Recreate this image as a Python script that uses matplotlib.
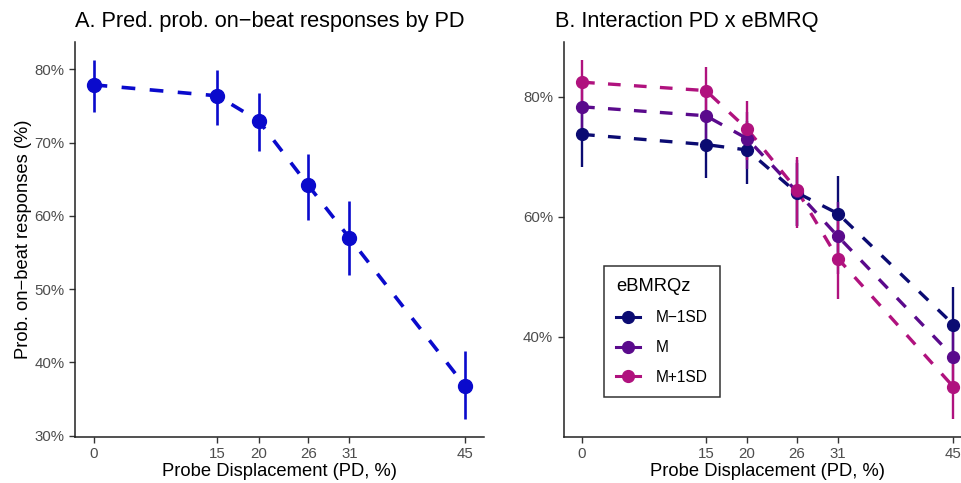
import matplotlib.pyplot as plt
from matplotlib.lines import Line2D
from matplotlib.ticker import FuncFormatter

plt.rcParams["font.family"] = ["Liberation Sans", "DejaVu Sans"]

# ---------- Data ----------
pd_levels = [0, 15, 20, 26, 31, 45]

# Panel A: predicted probability by PD (%)
a_mean = [77.9, 76.4, 73.0, 64.2, 57.0, 36.8]
a_lo = [74.2, 72.4, 68.8, 59.4, 51.9, 32.3]
a_hi = [81.3, 79.9, 76.8, 68.5, 62.0, 41.5]

# Panel B: interaction PD x eBMRQ (%)
groups = ["M\u22121SD", "M", "M+1SD"]
b_mean = {
    "M\u22121SD": [73.7, 72.0, 71.1, 64.0, 60.5, 42.0],
    "M": [78.3, 76.8, 73.0, 64.2, 56.7, 36.6],
    "M+1SD": [82.4, 81.0, 74.6, 64.5, 53.0, 31.6],
}
b_lo = {
    "M\u22121SD": [68.3, 66.5, 65.5, 58.5, 54.0, 36.0],
    "M": [74.0, 72.0, 68.0, 58.5, 50.5, 31.5],
    "M+1SD": [78.2, 76.5, 69.5, 58.1, 46.2, 26.3],
}
b_hi = {
    "M\u22121SD": [78.7, 77.0, 76.0, 69.0, 66.8, 48.2],
    "M": [82.3, 80.8, 77.5, 69.5, 62.5, 42.0],
    "M+1SD": [86.1, 84.9, 79.3, 70.0, 59.5, 37.0],
}
colors = {"M\u22121SD": "#0b0b72", "M": "#5a0a8c", "M+1SD": "#b0127e"}
blue = "#0a0acc"

pct = FuncFormatter(lambda v, p: f"{v:.0f}%")
dash = (0, (3.8, 4.0))


def style_axis(ax):
    for s in ["top", "right"]:
        ax.spines[s].set_visible(False)
    for s in ["left", "bottom"]:
        ax.spines[s].set_linewidth(1.1)
        ax.spines[s].set_color("#222222")
    ax.tick_params(axis="both", labelsize=10.8, labelcolor="#4d4d4d",
                   color="#333333", length=4, width=1)
    ax.set_xticks(pd_levels)
    ax.set_xlim(-2.25, 47.25)
    ax.yaxis.set_major_formatter(pct)
    ax.set_xlabel("Probe Displacement (PD, %)", fontsize=13.2, labelpad=1)


fig = plt.figure(figsize=(9.61, 4.83), dpi=100)
W, H = 961, 483

# ---------- Panel A ----------
axA = fig.add_axes([75 / W, 1 - 436.7 / H, (483.5 - 75) / W, (436.7 - 42) / H])
yerr = [[m - l for m, l in zip(a_mean, a_lo)], [h - m for m, h in zip(a_mean, a_hi)]]
axA.plot(pd_levels, a_mean, color=blue, lw=2.6, linestyle=dash)
axA.errorbar(pd_levels, a_mean, yerr=yerr, fmt="o", color=blue, ms=10,
             elinewidth=1.9, capsize=0)
axA.set_ylim(29.85, 83.75)
axA.set_yticks([30, 40, 50, 60, 70, 80])
style_axis(axA)
axA.set_ylabel("Prob. on\u2212beat responses (%)", fontsize=13.2, labelpad=2)
fig.text(75 / W, 1 - 27 / H, "A. Pred. prob. on\u2212beat responses by PD",
         fontsize=15.7, ha="left", va="baseline")

# ---------- Panel B ----------
axB = fig.add_axes([563.5 / W, 1 - 436.7 / H, (972 - 563.5) / W, (436.7 - 42) / H])
handles = []
for g in groups:
    m = b_mean[g]
    err = [[a - b for a, b in zip(m, b_lo[g])], [b - a for a, b in zip(m, b_hi[g])]]
    axB.plot(pd_levels, m, color=colors[g], lw=2.4, linestyle=dash)
    axB.errorbar(pd_levels, m, yerr=err, fmt="o", color=colors[g], ms=8.5,
                 elinewidth=1.7, capsize=0)
    handles.append(Line2D([], [], color=colors[g], lw=2.2, marker="o", ms=8.5))
axB.set_ylim(23.3, 89.1)
axB.set_yticks([40, 60, 80])
style_axis(axB)
fig.text(555 / W, 1 - 27 / H, "B. Interaction PD x eBMRQ",
         fontsize=15.7, ha="left", va="baseline")

leg = axB.legend(handles, groups, title="eBMRQz", loc="lower left",
                 bbox_to_anchor=(0.099, 0.10), borderaxespad=0,
                 fontsize=11.2, title_fontsize=13.2,
                 frameon=True, fancybox=False, handlelength=1.5,
                 labelspacing=0.95, borderpad=0.8, handletextpad=1.0)
leg.get_frame().set_edgecolor("black")
leg.get_frame().set_linewidth(1.1)
leg._legend_box.align = "left"

fig.savefig("out.png", dpi=100)
